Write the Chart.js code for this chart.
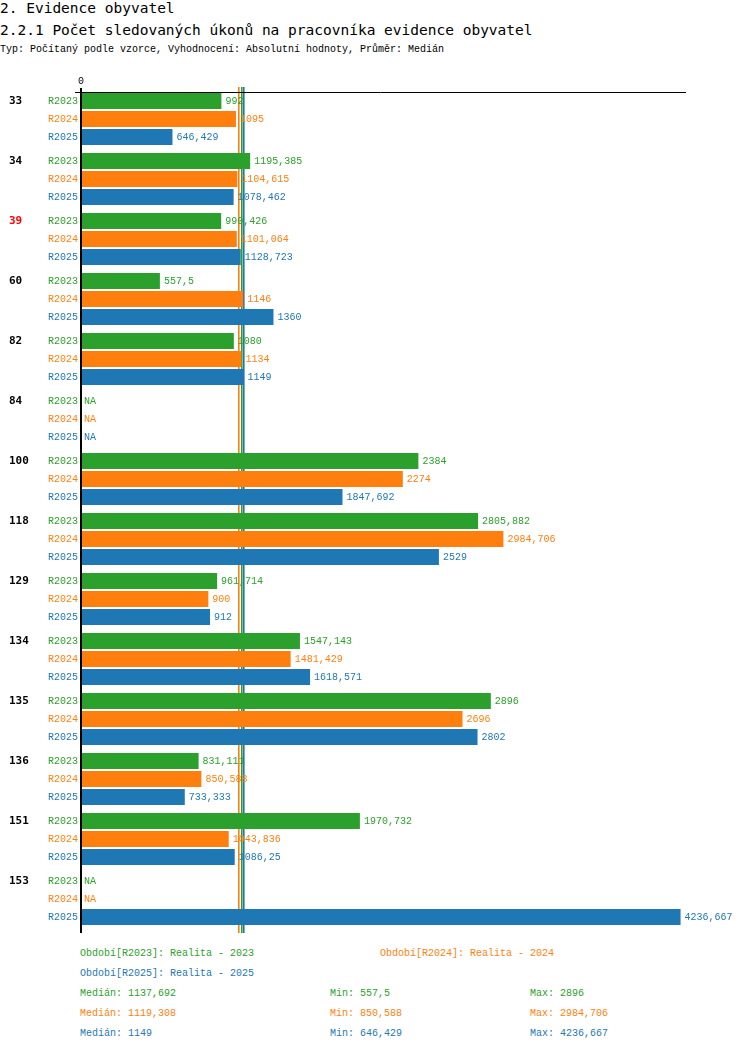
<!DOCTYPE html>
<html>
<head>
<meta charset="utf-8">
<script src="https://cdn.jsdelivr.net/npm/chart.js@4/dist/chart.umd.min.js"></script>
<style>
  body { margin: 0; background: #fff; font-family: "DejaVu Sans Mono", monospace; }
  .t { position: absolute; white-space: pre; line-height: 1; }
  .h1 { font-size: 14.5px; }
  .sm { font-size: 10px; font-family: "Liberation Mono", monospace; }
  #chartBox { position: absolute; left: 0; top: 0; }
</style>
</head>
<body>
<div class="t h1" style="left:0;top:1px">2. Evidence obyvatel</div>
<div class="t h1" style="left:0;top:23px">2.2.1 Počet sledovaných úkonů na pracovníka evidence obyvatel</div>
<div class="t sm" style="left:0;top:45px">Typ: Počítaný podle vzorce, Vyhodnocení: Absolutní hodnoty, Průměr: Medián</div>
<canvas id="chartBox" width="750" height="945"></canvas>
<div id="footer"></div>

<script>
const categories = ['33', '34', '39', '60', '82', '84', '100', '118', '129', '134', '135', '136', '151', '153'];
const highlighted = ['39'];
const seriesNames = ['R2023', 'R2024', 'R2025'];
const seriesTitles = ['Realita - 2023', 'Realita - 2024', 'Realita - 2025'];
const r2023 = [992, 1195.385, 990.426, 557.5, 1080, null, 2384, 2805.882, 961.714, 1547.143, 2896, 831.111, 1970.732, null];
const r2024 = [1095, 1104.615, 1101.064, 1146, 1134, null, 2274, 2984.706, 900, 1481.429, 2696, 850.588, 1043.836, null];
const r2025 = [646.429, 1078.462, 1128.723, 1360, 1149, null, 1847.692, 2529, 912, 1618.571, 2802, 733.333, 1086.25, 4236.667];
const medians = [1137.692, 1119.308, 1149];
const mins = [557.5, 850.588, 646.429];
const maxs = [2896, 2984.706, 4236.667];
const colors = ['#2ca02c', '#ff7f0e', '#1f77b4'];
const axisMax = 4275;

const fmt = v => String(v).replace('.', ',');
const FONT = '10px "Liberation Mono", monospace';

let chart;

const overlay = {
  id: 'overlay',
  beforeDatasetsDraw(c) {
    const ctx = c.ctx, xs = c.scales.x, a = c.chartArea;
    ctx.save();
    ctx.setLineDash([]);
    ctx.globalAlpha = 1;
    ctx.lineWidth = 1.6;
    for (const d of [1, 0, 2]) {
      const px = xs.getPixelForValue(medians[d]);
      ctx.strokeStyle = colors[d];
      ctx.fillStyle = colors[d];
      ctx.fillRect(Math.round(px) - 1, a.top - 2, 1.6, a.bottom + 6 - a.top);
    }
    ctx.restore();
  },
  afterDatasetsDraw(c) {
    const ctx = c.ctx, xs = c.scales.x, ys = c.scales.y, a = c.chartArea;
    const x0 = xs.getPixelForValue(0);
    ctx.save();
    // axes
    ctx.strokeStyle = '#000';
    ctx.lineWidth = 1;
    ctx.beginPath();
    ctx.moveTo(75, a.top + 3.5);
    ctx.lineTo(a.right, a.top + 3.5);
    ctx.stroke();
    ctx.lineWidth = 2;
    ctx.beginPath();
    ctx.moveTo(Math.round(x0), a.top - 1);
    ctx.lineTo(Math.round(x0), a.bottom + 4);
    ctx.stroke();
    ctx.fillStyle = '#000';
    ctx.font = FONT;
    ctx.textAlign = 'center';
    ctx.textBaseline = 'middle';
    ctx.fillText('0', Math.round(x0), a.top - 8);

    const band = ys.getPixelForValue(1) - ys.getPixelForValue(0);
    const slot = band * 0.9 / 3;
    c.data.datasets.forEach((ds, d) => {
      const meta = c.getDatasetMeta(d);
      ds.data.forEach((v, i) => {
        const el = meta.data[i];
        const y = el && isFinite(el.y) ? el.y : ys.getPixelForValue(i) + (d - 1) * slot;
        ctx.fillStyle = colors[d];
        ctx.font = FONT;
        ctx.textBaseline = 'middle';
        ctx.textAlign = 'right';
        ctx.fillText(seriesNames[d], x0 - 3, y);
        ctx.textAlign = 'left';
        if (v === null) {
          ctx.fillText('NA', x0 + 3, y);
        } else {
          ctx.fillText(fmt(v), xs.getPixelForValue(v) + 4, y);
        }
        if (d === 0) {
          ctx.fillStyle = highlighted.includes(categories[i]) ? '#ff0000' : '#000';
          ctx.font = 'bold 11px "DejaVu Sans Mono", monospace';
          ctx.fillText(categories[i], 9, y);
        }
      });
    });
    ctx.restore();
  }
};

function initChart() {
  const ctx = document.getElementById('chartBox');
  chart = new Chart(ctx, {
    type: 'bar',
    data: {
      labels: categories,
      datasets: [r2023, r2024, r2025].map((data, d) => ({
        label: seriesNames[d],
        data: data,
        backgroundColor: colors[d],
        borderWidth: 0,
        categoryPercentage: 0.9,
        barPercentage: 0.89
      }))
    },
    options: {
      indexAxis: 'y',
      responsive: false,
      animation: false,
      layout: { padding: { left: 81, right: 64, top: 89, bottom: 16 } },
      plugins: { legend: { display: false }, tooltip: { enabled: false } },
      scales: {
        x: { display: false, min: 0, max: axisMax },
        y: { display: false }
      }
    },
    plugins: [overlay]
  });
}

function buildFooter() {
  const f = document.getElementById('footer');
  const put = (txt, x, y, col) => {
    const el = document.createElement('div');
    el.className = 't sm';
    el.style.left = x + 'px';
    el.style.top = y + 'px';
    el.style.color = col;
    el.textContent = txt;
    f.appendChild(el);
  };
  put('Období[' + seriesNames[0] + ']: ' + seriesTitles[0], 80, 949, colors[0]);
  put('Období[' + seriesNames[1] + ']: ' + seriesTitles[1], 380, 949, colors[1]);
  put('Období[' + seriesNames[2] + ']: ' + seriesTitles[2], 80, 969, colors[2]);
  for (let d = 0; d < 3; d++) {
    const y = 989 + d * 20;
    put('Medián: ' + fmt(medians[d]), 80, y, colors[d]);
    put('Min: ' + fmt(mins[d]), 330, y, colors[d]);
    put('Max: ' + fmt(maxs[d]), 530, y, colors[d]);
  }
}

window.onload = () => {
  initChart();
  buildFooter();
};
</script>
</body>
</html>
